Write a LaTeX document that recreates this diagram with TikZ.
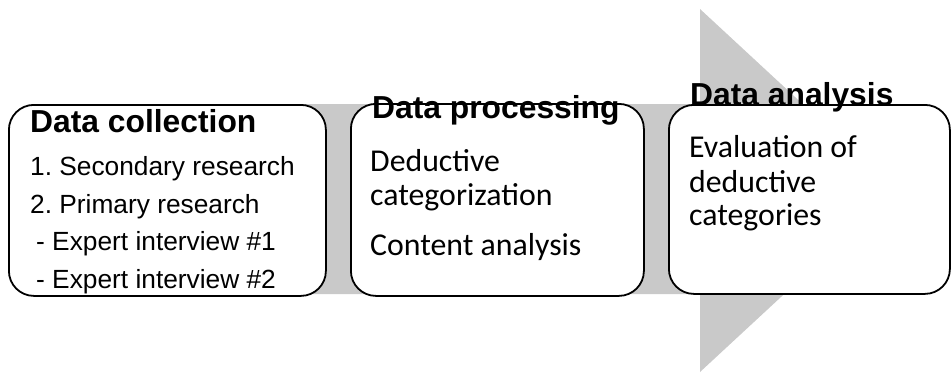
\documentclass[tikz,border=0pt]{standalone}
\usepackage{fontspec}
\setmainfont{Liberation Sans}
\newfontfamily\calibfont{Carlito}
\definecolor{arrowgray}{RGB}{201,201,201}
\frenchspacing
\begin{document}
\begin{tikzpicture}[x=1pt,y=-1pt,
  stagebox/.style={draw=black, line width=1.8pt, fill=white, rounded corners=25pt, anchor=north west, inner sep=0pt},
  titletext/.style={anchor=base west, inner sep=0pt, font=\fontsize{31.8}{31.8}\selectfont\bfseries},
  arialtext/.style={anchor=base west, inner sep=0pt, font=\fontsize{26.3}{26.3}\selectfont},
  calibtext/.style={anchor=base west, inner sep=0pt, font=\calibfont\fontsize{31.8}{31.8}\selectfont}]
\useasboundingbox (0,0) rectangle (951,383);
% big arrow
\fill[arrowgray] (100,104) -- (700,104) -- (700,9) -- (896,190.5) -- (700,372) -- (700,294) -- (100,294) -- cycle;
% boxes
\node[stagebox, minimum width=317pt, minimum height=191pt] (b1) at (8,104) {};
\node[stagebox, minimum width=293pt, minimum height=192pt] (b2) at (350,103) {};
\node[stagebox, minimum width=281pt, minimum height=189pt] (b3) at (668,104) {};
% box 1 text
\node[titletext] (t1) at (30,132) {Data collection};
\node[arialtext] (l11) at (30,175) {1. Secondary research};
\node[arialtext] (l12) at (30,213) {2. Primary research};
\node[arialtext] (l13) at (36,250) {- Expert interview \#1};
\node[arialtext] (l14) at (36,288) {- Expert interview \#2};
% box 2 text
\node[titletext] (t2) at (372,118) {Data processing};
\node[calibtext] (l21) at (370,171) {Deductive};
\node[calibtext] (l22) at (370,205) {categorization};
\node[calibtext] (l23) at (370,255) {Content analysis};
% box 3 text
\node[titletext] (t3) at (690,105) {Data analysis};
\node[calibtext] (l31) at (689,157) {Evaluation of};
\node[calibtext] (l32) at (689,192) {deductive};
\node[calibtext] (l33) at (689,225) {categories};
\end{tikzpicture}
\end{document}
